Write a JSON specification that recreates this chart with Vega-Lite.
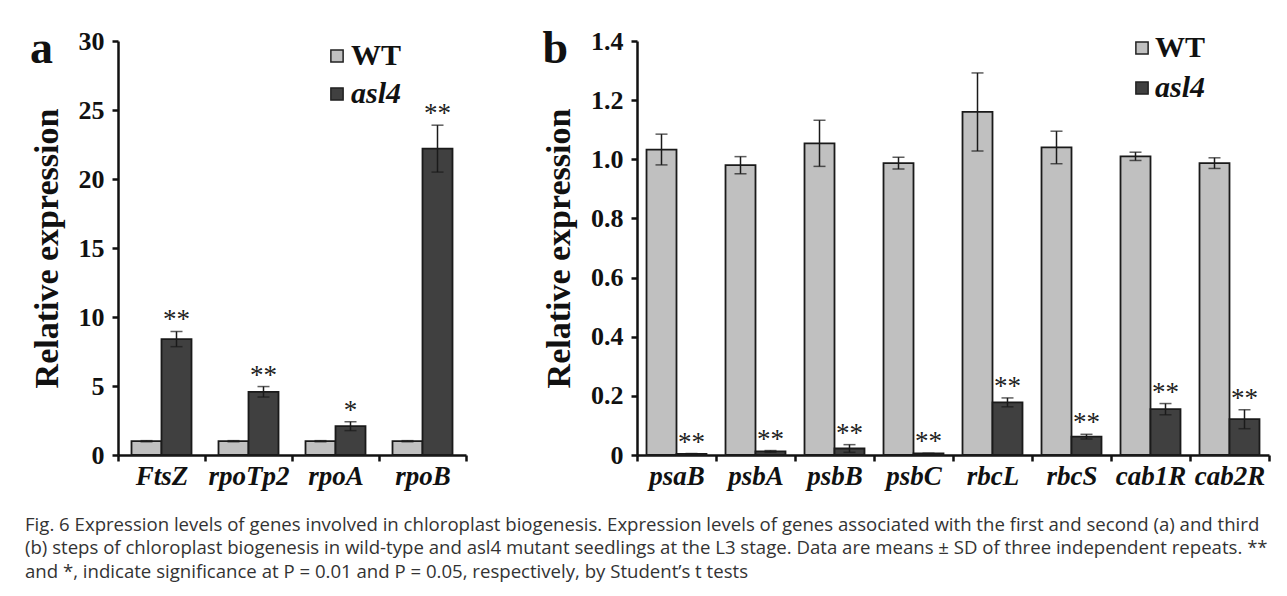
{
  "$schema": "https://vega.github.io/schema/vega-lite/v6.json",
  "autosize": {"type": "pad"},
  "padding": {"left": 25, "top": 26, "right": 0, "bottom": 0},
  "background": "white",
  "title": {
    "text": [
      "Fig. 6 Expression levels of genes involved in chloroplast biogenesis. Expression levels of genes associated with the first and second (a) and third",
      "(b) steps of chloroplast biogenesis in wild-type and asl4 mutant seedlings at the L3 stage. Data are means ± SD of three independent repeats. **",
      "and *, indicate significance at P = 0.01 and P = 0.05, respectively, by Student’s t tests"
    ],
    "orient": "bottom",
    "anchor": "start",
    "frame": "bounds",
    "font": "Open Sans",
    "fontSize": 18.6,
    "fontWeight": "normal",
    "color": "#333333",
    "lineHeight": 23.3,
    "offset": 27,
    "dx": -5
  },
  "spacing": 171,
  "bounds": "flush",
  "resolve": {
    "scale": {"x": "independent", "y": "independent", "fill": "independent", "xOffset": "independent"},
    "legend": {"fill": "independent"},
    "axis": {"x": "independent", "y": "independent"}
  },
  "hconcat": [
    {
      "width": 348,
      "height": 414,
      "title": {"text": "a", "orient": "top", "anchor": "start", "frame": "bounds", "font": "Liberation Serif", "fontSize": 46, "fontWeight": "bold", "color": "#111111", "baseline": "alphabetic", "offset": -81},
      "data": {"values": [
        {"gene": "FtsZ", "group": "WT", "mean": 1.0, "lo": 0.96, "hi": 1.04, "sig": ""},
        {"gene": "FtsZ", "group": "asl4", "mean": 8.4, "lo": 7.85, "hi": 8.95, "sig": "**"},
        {"gene": "rpoTp2", "group": "WT", "mean": 1.0, "lo": 0.96, "hi": 1.04, "sig": ""},
        {"gene": "rpoTp2", "group": "asl4", "mean": 4.58, "lo": 4.2, "hi": 4.96, "sig": "**"},
        {"gene": "rpoA", "group": "WT", "mean": 1.0, "lo": 0.96, "hi": 1.04, "sig": ""},
        {"gene": "rpoA", "group": "asl4", "mean": 2.09, "lo": 1.77, "hi": 2.41, "sig": "*"},
        {"gene": "rpoB", "group": "WT", "mean": 1.0, "lo": 0.96, "hi": 1.04, "sig": ""},
        {"gene": "rpoB", "group": "asl4", "mean": 22.2, "lo": 20.5, "hi": 23.9, "sig": "**"}
      ]},
      "encoding": {
        "x": {"field": "gene", "type": "nominal", "sort": null, "title": null,
          "scale": {"paddingInner": 0, "paddingOuter": 0},
          "axis": {"labelAngle": 0, "tickBand": "extent", "labelFont": "Liberation Serif", "labelFontSize": 27, "labelFontWeight": "bold", "labelFontStyle": "italic", "labelColor": "#111111", "labelPadding": 2, "tickSize": 6, "tickWidth": 2.5, "tickColor": "#111111", "domainWidth": 2.5, "domainColor": "#111111"}},
        "xOffset": {"field": "group", "type": "nominal", "sort": ["WT", "asl4"], "scale": {"paddingInner": 0, "paddingOuter": 0.45}}
      },
      "layer": [
        {
          "mark": {"type": "bar", "stroke": "#1a1a1a", "strokeWidth": 1.8},
          "encoding": {
            "y": {"field": "mean", "type": "quantitative", "title": "Relative expression",
              "scale": {"domain": [0, 30]},
              "axis": {"values": [0, 5, 10, 15, 20, 25, 30], "grid": false, "labelFont": "Liberation Serif", "labelFontSize": 26, "labelFontWeight": "bold", "labelColor": "#111111", "labelPadding": 8, "tickSize": 6, "tickWidth": 2.5, "tickColor": "#111111", "domainWidth": 2.5, "domainColor": "#111111", "titleFont": "Liberation Serif", "titleFontSize": 34, "titleFontWeight": "bold", "titleColor": "#111111", "titlePadding": 14}},
            "fill": {"field": "group", "type": "nominal", "sort": ["WT", "asl4"],
              "scale": {"domain": ["WT", "asl4"], "range": ["#c0c0c0", "#404040"]},
              "legend": {"orient": "none", "legendX": 204, "legendY": 0, "title": null, "symbolType": "square", "symbolSize": 150, "symbolStrokeColor": "#222222", "symbolStrokeWidth": 1.5, "labelFont": "Liberation Serif", "labelFontSize": 30, "labelFontWeight": "bold", "labelColor": "#111111", "rowPadding": 8, "labelOffset": -1,
                "encode": {"labels": {"update": {"fontStyle": {"signal": "datum.value === 'asl4' ? 'italic' : 'normal'"}}}}}}
          }
        },
        {
          "mark": {"type": "rule", "color": "#1a1a1a", "strokeWidth": 1.5},
          "encoding": {"y": {"field": "lo", "type": "quantitative", "title": "Relative expression"}, "y2": {"field": "hi"}}
        },
        {
          "mark": {"type": "tick", "color": "#1a1a1a", "size": 12, "thickness": 1.5},
          "encoding": {"y": {"field": "lo", "type": "quantitative", "title": "Relative expression"}}
        },
        {
          "mark": {"type": "tick", "color": "#1a1a1a", "size": 12, "thickness": 1.5},
          "encoding": {"y": {"field": "hi", "type": "quantitative", "title": "Relative expression"}}
        },
        {
          "mark": {"type": "text", "font": "Liberation Serif", "fontSize": 27, "color": "#222222", "baseline": "alphabetic", "dy": -3},
          "encoding": {"y": {"field": "hi", "type": "quantitative", "title": "Relative expression"}, "text": {"field": "sig"}}
        }
      ]
    },
    {
      "width": 632,
      "height": 414,
      "title": {"text": "b", "orient": "top", "anchor": "start", "frame": "bounds", "font": "Liberation Serif", "fontSize": 46, "fontWeight": "bold", "color": "#111111", "baseline": "alphabetic", "offset": -81},
      "data": {"values": [
        {"gene": "psaB", "group": "WT", "mean": 1.033, "lo": 0.981, "hi": 1.085, "sig": ""},
        {"gene": "psaB", "group": "asl4", "mean": 0.004, "lo": 0.003, "hi": 0.005, "sig": "**"},
        {"gene": "psbA", "group": "WT", "mean": 0.98, "lo": 0.951, "hi": 1.009, "sig": ""},
        {"gene": "psbA", "group": "asl4", "mean": 0.012, "lo": 0.009, "hi": 0.015, "sig": "**"},
        {"gene": "psbB", "group": "WT", "mean": 1.054, "lo": 0.976, "hi": 1.132, "sig": ""},
        {"gene": "psbB", "group": "asl4", "mean": 0.022, "lo": 0.009, "hi": 0.035, "sig": "**"},
        {"gene": "psbC", "group": "WT", "mean": 0.987, "lo": 0.967, "hi": 1.007, "sig": ""},
        {"gene": "psbC", "group": "asl4", "mean": 0.005, "lo": 0.004, "hi": 0.006, "sig": "**"},
        {"gene": "rbcL", "group": "WT", "mean": 1.16, "lo": 1.028, "hi": 1.292, "sig": ""},
        {"gene": "rbcL", "group": "asl4", "mean": 0.178, "lo": 0.163, "hi": 0.193, "sig": "**"},
        {"gene": "rbcS", "group": "WT", "mean": 1.04, "lo": 0.985, "hi": 1.095, "sig": ""},
        {"gene": "rbcS", "group": "asl4", "mean": 0.062, "lo": 0.054, "hi": 0.07, "sig": "**"},
        {"gene": "cab1R", "group": "WT", "mean": 1.01, "lo": 0.996, "hi": 1.024, "sig": ""},
        {"gene": "cab1R", "group": "asl4", "mean": 0.155, "lo": 0.136, "hi": 0.174, "sig": "**"},
        {"gene": "cab2R", "group": "WT", "mean": 0.987, "lo": 0.969, "hi": 1.005, "sig": ""},
        {"gene": "cab2R", "group": "asl4", "mean": 0.121, "lo": 0.089, "hi": 0.153, "sig": "**"}
      ]},
      "encoding": {
        "x": {"field": "gene", "type": "nominal", "sort": null, "title": null,
          "scale": {"paddingInner": 0, "paddingOuter": 0},
          "axis": {"labelAngle": 0, "tickBand": "extent", "labelFont": "Liberation Serif", "labelFontSize": 27, "labelFontWeight": "bold", "labelFontStyle": "italic", "labelColor": "#111111", "labelPadding": 2, "tickSize": 6, "tickWidth": 2.5, "tickColor": "#111111", "domainWidth": 2.5, "domainColor": "#111111"}},
        "xOffset": {"field": "group", "type": "nominal", "sort": ["WT", "asl4"], "scale": {"paddingInner": 0, "paddingOuter": 0.317}}
      },
      "layer": [
        {
          "mark": {"type": "bar", "stroke": "#1a1a1a", "strokeWidth": 1.8},
          "encoding": {
            "y": {"field": "mean", "type": "quantitative", "title": "Relative expression",
              "scale": {"domain": [0, 1.4]},
              "axis": {"values": [0, 0.2, 0.4, 0.6, 0.8, 1.0, 1.2, 1.4], "labelExpr": "datum.value == 0 ? '0' : format(datum.value, '.1f')", "grid": false, "labelFont": "Liberation Serif", "labelFontSize": 26, "labelFontWeight": "bold", "labelColor": "#111111", "labelPadding": 8, "tickSize": 6, "tickWidth": 2.5, "tickColor": "#111111", "domainWidth": 2.5, "domainColor": "#111111", "titleFont": "Liberation Serif", "titleFontSize": 34, "titleFontWeight": "bold", "titleColor": "#111111", "titlePadding": 14}},
            "fill": {"field": "group", "type": "nominal", "sort": ["WT", "asl4"],
              "scale": {"domain": ["WT", "asl4"], "range": ["#c0c0c0", "#404040"]},
              "legend": {"orient": "none", "legendX": 490, "legendY": -8, "title": null, "symbolType": "square", "symbolSize": 150, "symbolStrokeColor": "#222222", "symbolStrokeWidth": 1.5, "labelFont": "Liberation Serif", "labelFontSize": 30, "labelFontWeight": "bold", "labelColor": "#111111", "rowPadding": 10, "labelOffset": -2,
                "encode": {"labels": {"update": {"fontStyle": {"signal": "datum.value === 'asl4' ? 'italic' : 'normal'"}}}}}}
          }
        },
        {
          "mark": {"type": "rule", "color": "#1a1a1a", "strokeWidth": 1.5},
          "encoding": {"y": {"field": "lo", "type": "quantitative", "title": "Relative expression"}, "y2": {"field": "hi"}}
        },
        {
          "mark": {"type": "tick", "color": "#1a1a1a", "size": 12, "thickness": 1.5},
          "encoding": {"y": {"field": "lo", "type": "quantitative", "title": "Relative expression"}}
        },
        {
          "mark": {"type": "tick", "color": "#1a1a1a", "size": 12, "thickness": 1.5},
          "encoding": {"y": {"field": "hi", "type": "quantitative", "title": "Relative expression"}}
        },
        {
          "mark": {"type": "text", "font": "Liberation Serif", "fontSize": 27, "color": "#222222", "baseline": "alphabetic", "dy": -3},
          "encoding": {"y": {"field": "hi", "type": "quantitative", "title": "Relative expression"}, "text": {"field": "sig"}}
        }
      ]
    }
  ],
  "config": {
    "view": {"stroke": null},
    "font": "Liberation Serif"
  }
}
